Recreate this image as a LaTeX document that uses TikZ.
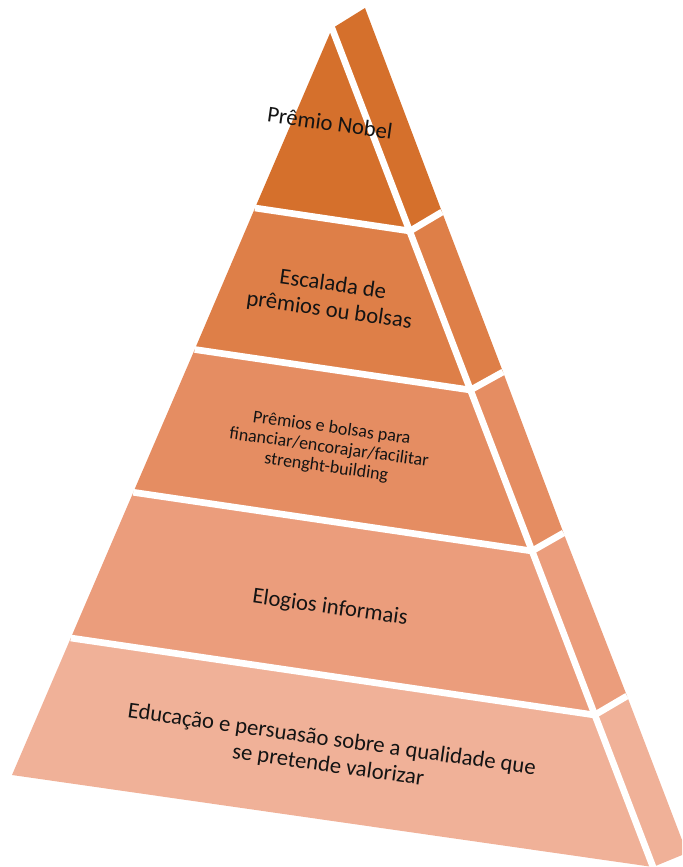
\documentclass[tikz,border=0pt]{standalone}
\usepackage{fontspec}
\setmainfont{Carlito}
\definecolor{lay1}{RGB}{213,112,44}
\definecolor{lay2}{RGB}{222,127,72}
\definecolor{lay3}{RGB}{229,141,98}
\definecolor{lay4}{RGB}{235,157,124}
\definecolor{lay5}{RGB}{240,177,152}
\definecolor{txt}{RGB}{20,20,20}
\tikzset{
  sepline/.style={draw=white, line width=5pt, line cap=butt, line join=miter},
  label/.style={rotate=-8, align=center, text=txt, inner sep=0pt},
  big/.style={label, font=\fontsize{17}{19.5}\selectfont},
  small/.style={label, font=\fontsize{13.5}{14.8}\selectfont}
}
\begin{document}
\begin{tikzpicture}[x=0.75pt, y=-0.75pt]
\useasboundingbox (0,0) rectangle (682,867);
\clip (0,0) rectangle (682,867);
% key points
\coordinate (A)  at (332,28.5);
\coordinate (At) at (330,23);
\coordinate (B)  at (365,8);
\coordinate (L1) at (255,208);
\coordinate (L2) at (194.7,349.5);
\coordinate (L3) at (133.3,492.3);
\coordinate (L4) at (70.8,638);
\coordinate (L5) at (12,775);
\coordinate (C1) at (410,231);
\coordinate (C2) at (470.5,390);
\coordinate (C3) at (532,551);
\coordinate (C4) at (594.7,715);
\coordinate (C5) at (653,867);
\coordinate (C6) at (658,880);
\coordinate (R1) at (442,212);
\coordinate (R2) at (503,372);
\coordinate (R3) at (563.5,533);
\coordinate (R4) at (627,696);
\coordinate (R5) at (687,853);
% front faces
\fill[lay1] (A) -- (L1) -- (C1) -- cycle;
\fill[lay2] (L1) -- (L2) -- (C2) -- (C1) -- cycle;
\fill[lay3] (L2) -- (L3) -- (C3) -- (C2) -- cycle;
\fill[lay4] (L3) -- (L4) -- (C4) -- (C3) -- cycle;
\fill[lay5] (L4) -- (L5) -- (C5) -- (C4) -- cycle;
% side faces
\fill[lay1] (A) -- (B) -- (R1) -- (C1) -- cycle;
\fill[lay2] (C1) -- (R1) -- (R2) -- (C2) -- cycle;
\fill[lay3] (C2) -- (R2) -- (R3) -- (C3) -- cycle;
\fill[lay4] (C3) -- (R3) -- (R4) -- (C4) -- cycle;
\fill[lay5] (C4) -- (R4) -- (R5) -- (C5) -- cycle;
% white separators
\draw[sepline] (At) -- (C6);
\draw[sepline] (L1) -- (C1) -- (R1);
\draw[sepline] (L2) -- (C2) -- (R2);
\draw[sepline] (L3) -- (C3) -- (R3);
\draw[sepline] (L4) -- (C4) -- (R4);
% labels
\node[big] (t1) at (330,123) {Prêmio Nobel};
\node[big] (t2) at (331,298) {Escalada de\\prêmios ou bolsas};
\node[small] (t3) at (329,448) {Prêmios e bolsas para\\financiar/encorajar/facilitar\\strenght-building};
\node[big] (t4) at (330,608) {Elogios informais};
\node[big] (t5) at (330,753) {Educação e persuasão sobre a qualidade que\\se pretende valorizar};
\end{tikzpicture}
\end{document}
